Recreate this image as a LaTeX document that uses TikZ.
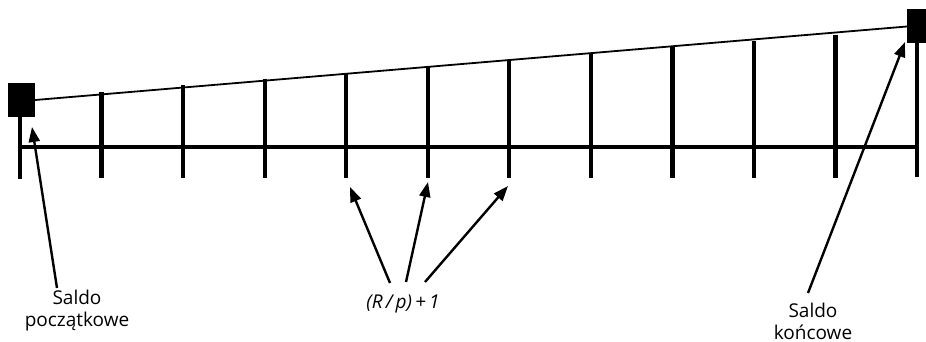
\documentclass[tikz,border=0pt]{standalone}
\usepackage{fontspec}
\setmainfont{Open Sans}
\usetikzlibrary{arrows.meta}
\begin{document}
\begin{tikzpicture}[x=1pt,y=-1pt,
  axis/.style={line width=4pt},
  tick/.style={line width=4.2pt},
  slope/.style={line width=1.8pt},
  blk/.style={fill=black,draw=none,inner sep=0pt,minimum width=27pt,minimum height=34pt},
  ptr/.style={line width=2.4pt,-{Triangle[length=15pt,width=11pt]}},
  lbl/.style={font=\fontsize{19}{22}\selectfont,align=center,inner sep=0pt}]
\useasboundingbox (0,0) rectangle (926,342);
% squares
\node[blk] (bs) at (21.5,100) {};
\node[blk] (be) at (920.5,26.5) {};
% axis
\coordinate (a0) at (18,147);
\coordinate (a1) at (919,147);
\draw[axis] (a0) -- (a1);
% end verticals
\coordinate (vs) at (20,179);
\coordinate (ve) at (917,177);
\draw[tick] (bs.south -| vs) -- (vs);
\draw[tick] (917,43) -- (ve);
% slanted line
\draw[slope] (bs.east) -- (be.west);
% ticks
\foreach \i in {1,...,10}{
  \pgfmathsetmacro{\xx}{20+81.55*\i}
  \pgfmathsetmacro{\yy}{100-(0.07789*(\xx-34))-3}
  \coordinate (t\i) at (\xx,\yy);
  \coordinate (b\i) at (\xx,178);
  \draw[tick] (t\i) -- (b\i);
}
% labels
\node[lbl] (ls) at (77,311) {Saldo\\początkowe};
\node[lbl,font=\fontsize{19}{22}\selectfont\itshape] (lm) at (403,304) {(R\,/\,p)\,+\,1};
\node[lbl] (le) at (813,321) {Saldo\\końcowe};
% arrows
\coordinate (s0) at (57,288);
\coordinate (e0) at (32,127);
\draw[ptr] (s0) -- (e0);
\coordinate (s1) at (390,283);
\coordinate (e1) at (350,187);
\coordinate (s2) at (406,282);
\coordinate (e2) at (428,182);
\coordinate (s3) at (425,282);
\coordinate (e3) at (508,186);
\draw[ptr] (s1) -- (e1);
\draw[ptr] (s2) -- (e2);
\draw[ptr] (s3) -- (e3);
\coordinate (s4) at (808,293);
\coordinate (e4) at (905,42);
\draw[ptr] (s4) -- (e4);
\end{tikzpicture}
\end{document}
